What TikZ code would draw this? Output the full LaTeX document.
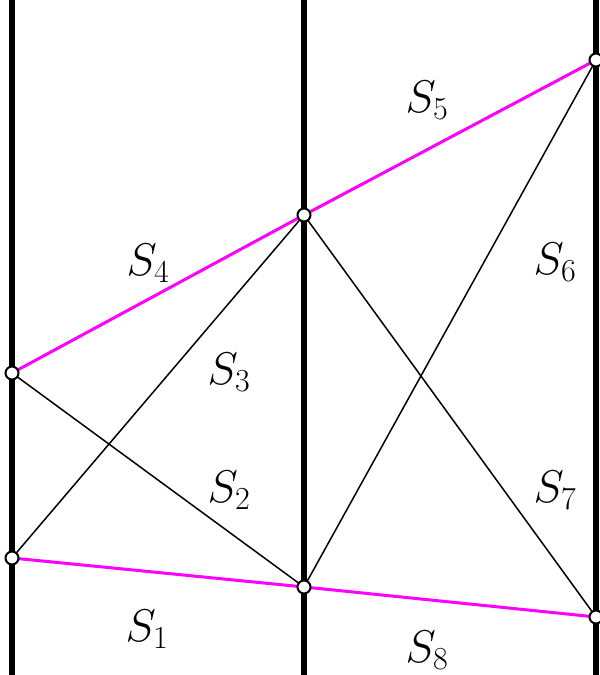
\documentclass[tikz,border=0pt]{standalone}
\usepackage{fix-cm}
\definecolor{mag}{RGB}{255,0,255}
\begin{document}
\begin{tikzpicture}[x=1bp,y=1bp,
  wall/.style={line width=6.5bp,black},
  pink/.style={line width=3bp,mag},
  thin/.style={line width=1.5bp,black},
  pt/.style={circle,draw=black,fill=white,line width=2bp,minimum size=13bp,inner sep=0pt},
  lab/.style={font=\fontsize{46}{50}\selectfont}]
\useasboundingbox (0,0) rectangle (600,675);
\coordinate (L0) at (12,0); \coordinate (L1) at (12,675);
\coordinate (M0) at (304,0); \coordinate (M1) at (304,675);
\coordinate (R0) at (596,0); \coordinate (R1) at (596,675);
\draw[wall] (L0) -- (L1);
\draw[wall] (M0) -- (M1);
\draw[wall] (R0) -- (R1);
\coordinate (A) at (12,302);
\coordinate (B) at (12,117);
\coordinate (C) at (304,460);
\coordinate (D) at (304,88);
\coordinate (E) at (596,615);
\coordinate (F) at (596,58);
\draw[thin] (A) -- (D);
\draw[thin] (B) -- (C);
\draw[thin] (C) -- (F);
\draw[thin] (D) -- (E);
\draw[pink] (A) -- (C) -- (E);
\draw[pink] (B) -- (D) -- (F);
\node[pt] (nA) at (A) {};
\node[pt] (nB) at (B) {};
\node[pt] (nC) at (C) {};
\node[pt] (nD) at (D) {};
\node[pt] (nE) at (E) {};
\node[pt] (nF) at (F) {};
\node[lab] (s1) at (147,46) {$S_1$};
\node[lab] (s2) at (229,185) {$S_2$};
\node[lab] (s3) at (229,303) {$S_3$};
\node[lab] (s4) at (148,412) {$S_4$};
\node[lab] (s5) at (427,575) {$S_5$};
\node[lab] (s6) at (555,413) {$S_6$};
\node[lab] (s7) at (555,185) {$S_7$};
\node[lab] (s8) at (427,25) {$S_8$};
\end{tikzpicture}
\end{document}
